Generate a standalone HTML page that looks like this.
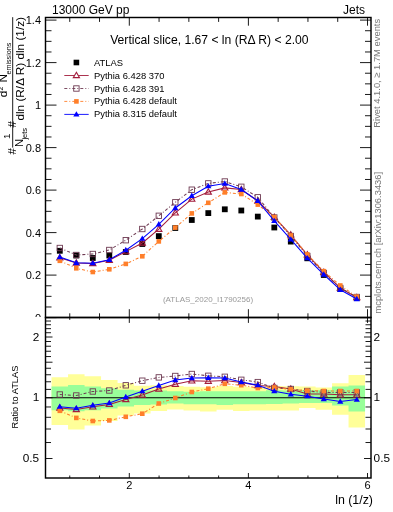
<!DOCTYPE html><html><head><meta charset="utf-8"><style>html,body{margin:0;padding:0;background:#fff;width:393px;height:512px;overflow:hidden}svg{display:block;will-change:transform}text{font-family:"Liberation Sans",sans-serif}</style></head><body>
<svg width="393" height="512" viewBox="0 0 393 512">
<rect x="0" y="0" width="393" height="512" fill="#fff"/>
<path d="M51.55 377.20H68.05V424.90H51.55Z M68.05 374.20H84.55V429.60H68.05Z M84.55 376.20H101.05V425.50H84.55Z M101.05 380.00H117.55V421.00H101.05Z M117.55 383.00H134.05V415.60H117.55Z M134.05 385.80H150.55V413.50H134.05Z M150.55 385.30H167.05V411.00H150.55Z M167.05 386.00H183.55V409.60H167.05Z M183.55 386.70H200.05V410.40H183.55Z M200.05 387.30H216.55V411.50H200.05Z M216.55 386.00H233.05V409.80H216.55Z M233.05 386.70H249.55V411.00H233.05Z M249.55 387.30H266.05V410.40H249.55Z M266.05 386.00H282.55V410.40H266.05Z M282.55 386.30H299.05V410.40H282.55Z M299.05 386.60H315.55V408.00H299.05Z M315.55 387.40H332.05V409.70H315.55Z M332.05 383.30H348.55V414.70H332.05Z M348.55 374.90H365.05V427.50H348.55Z" fill="#ffff99"/>
<path d="M51.55 386.40H68.05V410.30H51.55Z M68.05 385.00H84.55V411.30H68.05Z M84.55 386.40H101.05V410.30H84.55Z M101.05 388.30H117.55V408.40H101.05Z M117.55 389.80H134.05V406.40H117.55Z M134.05 390.60H150.55V405.00H134.05Z M150.55 390.60H167.05V404.40H150.55Z M167.05 391.30H183.55V403.60H167.05Z M183.55 391.80H200.05V404.30H183.55Z M200.05 391.30H216.55V404.30H200.05Z M216.55 391.30H233.05V405.00H216.55Z M233.05 391.30H249.55V404.30H233.05Z M249.55 391.30H266.05V404.30H249.55Z M266.05 390.20H282.55V404.00H266.05Z M282.55 390.50H299.05V403.50H282.55Z M299.05 390.00H315.55V403.10H299.05Z M315.55 390.00H332.05V403.10H315.55Z M332.05 386.60H348.55V405.60H332.05Z M348.55 385.50H365.05V411.40H348.55Z" fill="#99ff99"/>
<line x1="45.5" y1="397.75" x2="371.0" y2="397.75" stroke="#000" stroke-width="1.2"/>
<rect x="56.90" y="247.90" width="5.8" height="5.8" fill="#000"/>
<rect x="73.40" y="252.60" width="5.8" height="5.8" fill="#000"/>
<rect x="89.90" y="255.10" width="5.8" height="5.8" fill="#000"/>
<rect x="106.40" y="252.60" width="5.8" height="5.8" fill="#000"/>
<rect x="122.90" y="249.10" width="5.8" height="5.8" fill="#000"/>
<rect x="139.40" y="241.10" width="5.8" height="5.8" fill="#000"/>
<rect x="155.90" y="233.20" width="5.8" height="5.8" fill="#000"/>
<rect x="172.40" y="225.10" width="5.8" height="5.8" fill="#000"/>
<rect x="188.90" y="217.10" width="5.8" height="5.8" fill="#000"/>
<rect x="205.40" y="210.20" width="5.8" height="5.8" fill="#000"/>
<rect x="221.90" y="206.40" width="5.8" height="5.8" fill="#000"/>
<rect x="238.40" y="207.60" width="5.8" height="5.8" fill="#000"/>
<rect x="254.90" y="213.70" width="5.8" height="5.8" fill="#000"/>
<rect x="271.40" y="224.60" width="5.8" height="5.8" fill="#000"/>
<rect x="287.90" y="238.70" width="5.8" height="5.8" fill="#000"/>
<rect x="304.40" y="255.40" width="5.8" height="5.8" fill="#000"/>
<rect x="320.90" y="272.10" width="5.8" height="5.8" fill="#000"/>
<rect x="337.40" y="286.10" width="5.8" height="5.8" fill="#000"/>
<rect x="353.90" y="295.10" width="5.8" height="5.8" fill="#000"/>
<polyline points="59.80,257.80 76.30,263.00 92.80,263.50 109.30,260.30 125.80,251.60 142.30,243.00 158.80,229.20 175.30,212.90 191.80,199.10 208.30,192.00 224.80,187.90 241.30,189.50 257.80,201.00 274.30,217.20 290.80,234.90 307.30,254.80 323.80,272.20 340.30,288.00 356.80,297.50" fill="none" stroke="#a31d3c" stroke-width="1.05"/>
<polygon points="59.80,254.58 62.90,259.95 56.70,259.95" fill="none" stroke="#a31d3c" stroke-width="1.1"/>
<polygon points="76.30,259.78 79.40,265.15 73.20,265.15" fill="none" stroke="#a31d3c" stroke-width="1.1"/>
<polygon points="92.80,260.28 95.90,265.65 89.70,265.65" fill="none" stroke="#a31d3c" stroke-width="1.1"/>
<polygon points="109.30,257.08 112.40,262.45 106.20,262.45" fill="none" stroke="#a31d3c" stroke-width="1.1"/>
<polygon points="125.80,248.38 128.90,253.75 122.70,253.75" fill="none" stroke="#a31d3c" stroke-width="1.1"/>
<polygon points="142.30,239.78 145.40,245.15 139.20,245.15" fill="none" stroke="#a31d3c" stroke-width="1.1"/>
<polygon points="158.80,225.98 161.90,231.35 155.70,231.35" fill="none" stroke="#a31d3c" stroke-width="1.1"/>
<polygon points="175.30,209.68 178.40,215.05 172.20,215.05" fill="none" stroke="#a31d3c" stroke-width="1.1"/>
<polygon points="191.80,195.88 194.90,201.25 188.70,201.25" fill="none" stroke="#a31d3c" stroke-width="1.1"/>
<polygon points="208.30,188.78 211.40,194.15 205.20,194.15" fill="none" stroke="#a31d3c" stroke-width="1.1"/>
<polygon points="224.80,184.68 227.90,190.05 221.70,190.05" fill="none" stroke="#a31d3c" stroke-width="1.1"/>
<polygon points="241.30,186.28 244.40,191.65 238.20,191.65" fill="none" stroke="#a31d3c" stroke-width="1.1"/>
<polygon points="257.80,197.78 260.90,203.15 254.70,203.15" fill="none" stroke="#a31d3c" stroke-width="1.1"/>
<polygon points="274.30,213.98 277.40,219.35 271.20,219.35" fill="none" stroke="#a31d3c" stroke-width="1.1"/>
<polygon points="290.80,231.68 293.90,237.05 287.70,237.05" fill="none" stroke="#a31d3c" stroke-width="1.1"/>
<polygon points="307.30,251.58 310.40,256.95 304.20,256.95" fill="none" stroke="#a31d3c" stroke-width="1.1"/>
<polygon points="323.80,268.98 326.90,274.35 320.70,274.35" fill="none" stroke="#a31d3c" stroke-width="1.1"/>
<polygon points="340.30,284.78 343.40,290.15 337.20,290.15" fill="none" stroke="#a31d3c" stroke-width="1.1"/>
<polygon points="356.80,294.28 359.90,299.65 353.70,299.65" fill="none" stroke="#a31d3c" stroke-width="1.1"/>
<polyline points="59.80,248.00 76.30,255.00 92.80,254.00 109.30,250.00 125.80,240.20 142.30,229.00 158.80,215.80 175.30,202.30 191.80,189.70 208.30,183.40 224.80,181.50 241.30,186.80 257.80,197.30 274.30,217.50 290.80,236.00 307.30,256.00 323.80,273.00 340.30,288.00 356.80,297.00" fill="none" stroke="#6e3a52" stroke-width="1.05" stroke-dasharray="3,2,1,2"/>
<rect x="57.10" y="245.30" width="5.4" height="5.4" fill="none" stroke="#6e3a52" stroke-width="0.9"/>
<rect x="73.60" y="252.30" width="5.4" height="5.4" fill="none" stroke="#6e3a52" stroke-width="0.9"/>
<rect x="90.10" y="251.30" width="5.4" height="5.4" fill="none" stroke="#6e3a52" stroke-width="0.9"/>
<rect x="106.60" y="247.30" width="5.4" height="5.4" fill="none" stroke="#6e3a52" stroke-width="0.9"/>
<rect x="123.10" y="237.50" width="5.4" height="5.4" fill="none" stroke="#6e3a52" stroke-width="0.9"/>
<rect x="139.60" y="226.30" width="5.4" height="5.4" fill="none" stroke="#6e3a52" stroke-width="0.9"/>
<rect x="156.10" y="213.10" width="5.4" height="5.4" fill="none" stroke="#6e3a52" stroke-width="0.9"/>
<rect x="172.60" y="199.60" width="5.4" height="5.4" fill="none" stroke="#6e3a52" stroke-width="0.9"/>
<rect x="189.10" y="187.00" width="5.4" height="5.4" fill="none" stroke="#6e3a52" stroke-width="0.9"/>
<rect x="205.60" y="180.70" width="5.4" height="5.4" fill="none" stroke="#6e3a52" stroke-width="0.9"/>
<rect x="222.10" y="178.80" width="5.4" height="5.4" fill="none" stroke="#6e3a52" stroke-width="0.9"/>
<rect x="238.60" y="184.10" width="5.4" height="5.4" fill="none" stroke="#6e3a52" stroke-width="0.9"/>
<rect x="255.10" y="194.60" width="5.4" height="5.4" fill="none" stroke="#6e3a52" stroke-width="0.9"/>
<rect x="271.60" y="214.80" width="5.4" height="5.4" fill="none" stroke="#6e3a52" stroke-width="0.9"/>
<rect x="288.10" y="233.30" width="5.4" height="5.4" fill="none" stroke="#6e3a52" stroke-width="0.9"/>
<rect x="304.60" y="253.30" width="5.4" height="5.4" fill="none" stroke="#6e3a52" stroke-width="0.9"/>
<rect x="321.10" y="270.30" width="5.4" height="5.4" fill="none" stroke="#6e3a52" stroke-width="0.9"/>
<rect x="337.60" y="285.30" width="5.4" height="5.4" fill="none" stroke="#6e3a52" stroke-width="0.9"/>
<rect x="354.10" y="294.30" width="5.4" height="5.4" fill="none" stroke="#6e3a52" stroke-width="0.9"/>
<polyline points="59.80,260.80 76.30,268.30 92.80,272.00 109.30,269.30 125.80,263.90 142.30,256.30 158.80,241.40 175.30,227.60 191.80,213.40 208.30,202.80 224.80,192.40 241.30,194.00 257.80,204.60 274.30,217.10 290.80,235.50 307.30,254.40 323.80,271.20 340.30,285.50 356.80,296.70" fill="none" stroke="#ff7f2a" stroke-width="1.05" stroke-dasharray="3,2,1,2"/>
<rect x="57.50" y="258.50" width="4.6" height="4.6" fill="#ff7f2a"/>
<rect x="74.00" y="266.00" width="4.6" height="4.6" fill="#ff7f2a"/>
<rect x="90.50" y="269.70" width="4.6" height="4.6" fill="#ff7f2a"/>
<rect x="107.00" y="267.00" width="4.6" height="4.6" fill="#ff7f2a"/>
<rect x="123.50" y="261.60" width="4.6" height="4.6" fill="#ff7f2a"/>
<rect x="140.00" y="254.00" width="4.6" height="4.6" fill="#ff7f2a"/>
<rect x="156.50" y="239.10" width="4.6" height="4.6" fill="#ff7f2a"/>
<rect x="173.00" y="225.30" width="4.6" height="4.6" fill="#ff7f2a"/>
<rect x="189.50" y="211.10" width="4.6" height="4.6" fill="#ff7f2a"/>
<rect x="206.00" y="200.50" width="4.6" height="4.6" fill="#ff7f2a"/>
<rect x="222.50" y="190.10" width="4.6" height="4.6" fill="#ff7f2a"/>
<rect x="239.00" y="191.70" width="4.6" height="4.6" fill="#ff7f2a"/>
<rect x="255.50" y="202.30" width="4.6" height="4.6" fill="#ff7f2a"/>
<rect x="272.00" y="214.80" width="4.6" height="4.6" fill="#ff7f2a"/>
<rect x="288.50" y="233.20" width="4.6" height="4.6" fill="#ff7f2a"/>
<rect x="305.00" y="252.10" width="4.6" height="4.6" fill="#ff7f2a"/>
<rect x="321.50" y="268.90" width="4.6" height="4.6" fill="#ff7f2a"/>
<rect x="338.00" y="283.20" width="4.6" height="4.6" fill="#ff7f2a"/>
<rect x="354.50" y="294.40" width="4.6" height="4.6" fill="#ff7f2a"/>
<polyline points="59.80,257.00 76.30,262.80 92.80,263.20 109.30,259.80 125.80,250.20 142.30,238.70 158.80,224.30 175.30,208.00 191.80,195.80 208.30,186.20 224.80,183.50 241.30,189.50 257.80,200.80 274.30,220.90 290.80,239.40 307.30,258.20 323.80,274.50 340.30,289.80 356.80,299.00" fill="none" stroke="#0000ff" stroke-width="1.05"/>
<polygon points="59.80,253.78 62.90,259.15 56.70,259.15" fill="#0000ff"/>
<polygon points="76.30,259.58 79.40,264.95 73.20,264.95" fill="#0000ff"/>
<polygon points="92.80,259.98 95.90,265.35 89.70,265.35" fill="#0000ff"/>
<polygon points="109.30,256.58 112.40,261.95 106.20,261.95" fill="#0000ff"/>
<polygon points="125.80,246.98 128.90,252.35 122.70,252.35" fill="#0000ff"/>
<polygon points="142.30,235.48 145.40,240.85 139.20,240.85" fill="#0000ff"/>
<polygon points="158.80,221.08 161.90,226.45 155.70,226.45" fill="#0000ff"/>
<polygon points="175.30,204.78 178.40,210.15 172.20,210.15" fill="#0000ff"/>
<polygon points="191.80,192.58 194.90,197.95 188.70,197.95" fill="#0000ff"/>
<polygon points="208.30,182.98 211.40,188.35 205.20,188.35" fill="#0000ff"/>
<polygon points="224.80,180.28 227.90,185.65 221.70,185.65" fill="#0000ff"/>
<polygon points="241.30,186.28 244.40,191.65 238.20,191.65" fill="#0000ff"/>
<polygon points="257.80,197.58 260.90,202.95 254.70,202.95" fill="#0000ff"/>
<polygon points="274.30,217.68 277.40,223.05 271.20,223.05" fill="#0000ff"/>
<polygon points="290.80,236.18 293.90,241.55 287.70,241.55" fill="#0000ff"/>
<polygon points="307.30,254.98 310.40,260.35 304.20,260.35" fill="#0000ff"/>
<polygon points="323.80,271.28 326.90,276.65 320.70,276.65" fill="#0000ff"/>
<polygon points="340.30,286.58 343.40,291.95 337.20,291.95" fill="#0000ff"/>
<polygon points="356.80,295.78 359.90,301.15 353.70,301.15" fill="#0000ff"/>
<polyline points="59.80,408.00 76.30,409.50 92.80,406.80 109.30,404.40 125.80,399.50 142.30,395.00 158.80,389.00 175.30,384.20 191.80,380.80 208.30,381.20 224.80,380.60 241.30,382.50 257.80,385.50 274.30,386.50 290.80,389.00 307.30,394.00 323.80,394.00 340.30,394.80 356.80,394.80" fill="none" stroke="#a31d3c" stroke-width="1.05"/>
<polygon points="59.80,404.78 62.90,410.15 56.70,410.15" fill="none" stroke="#a31d3c" stroke-width="1.1"/>
<polygon points="76.30,406.28 79.40,411.65 73.20,411.65" fill="none" stroke="#a31d3c" stroke-width="1.1"/>
<polygon points="92.80,403.58 95.90,408.95 89.70,408.95" fill="none" stroke="#a31d3c" stroke-width="1.1"/>
<polygon points="109.30,401.18 112.40,406.55 106.20,406.55" fill="none" stroke="#a31d3c" stroke-width="1.1"/>
<polygon points="125.80,396.28 128.90,401.65 122.70,401.65" fill="none" stroke="#a31d3c" stroke-width="1.1"/>
<polygon points="142.30,391.78 145.40,397.15 139.20,397.15" fill="none" stroke="#a31d3c" stroke-width="1.1"/>
<polygon points="158.80,385.78 161.90,391.15 155.70,391.15" fill="none" stroke="#a31d3c" stroke-width="1.1"/>
<polygon points="175.30,380.98 178.40,386.35 172.20,386.35" fill="none" stroke="#a31d3c" stroke-width="1.1"/>
<polygon points="191.80,377.58 194.90,382.95 188.70,382.95" fill="none" stroke="#a31d3c" stroke-width="1.1"/>
<polygon points="208.30,377.98 211.40,383.35 205.20,383.35" fill="none" stroke="#a31d3c" stroke-width="1.1"/>
<polygon points="224.80,377.38 227.90,382.75 221.70,382.75" fill="none" stroke="#a31d3c" stroke-width="1.1"/>
<polygon points="241.30,379.28 244.40,384.65 238.20,384.65" fill="none" stroke="#a31d3c" stroke-width="1.1"/>
<polygon points="257.80,382.28 260.90,387.65 254.70,387.65" fill="none" stroke="#a31d3c" stroke-width="1.1"/>
<polygon points="274.30,383.28 277.40,388.65 271.20,388.65" fill="none" stroke="#a31d3c" stroke-width="1.1"/>
<polygon points="290.80,385.78 293.90,391.15 287.70,391.15" fill="none" stroke="#a31d3c" stroke-width="1.1"/>
<polygon points="307.30,390.78 310.40,396.15 304.20,396.15" fill="none" stroke="#a31d3c" stroke-width="1.1"/>
<polygon points="323.80,390.78 326.90,396.15 320.70,396.15" fill="none" stroke="#a31d3c" stroke-width="1.1"/>
<polygon points="340.30,391.58 343.40,396.95 337.20,396.95" fill="none" stroke="#a31d3c" stroke-width="1.1"/>
<polygon points="356.80,391.58 359.90,396.95 353.70,396.95" fill="none" stroke="#a31d3c" stroke-width="1.1"/>
<polyline points="59.80,394.50 76.30,395.50 92.80,391.50 109.30,390.50 125.80,385.30 142.30,380.70 158.80,377.40 175.30,376.00 191.80,374.00 208.30,375.80 224.80,376.80 241.30,379.80 257.80,382.10 274.30,388.00 290.80,389.00 307.30,391.00 323.80,392.40 340.30,392.40 356.80,392.40" fill="none" stroke="#6e3a52" stroke-width="1.05" stroke-dasharray="3,2,1,2"/>
<rect x="57.10" y="391.80" width="5.4" height="5.4" fill="none" stroke="#6e3a52" stroke-width="0.9"/>
<rect x="73.60" y="392.80" width="5.4" height="5.4" fill="none" stroke="#6e3a52" stroke-width="0.9"/>
<rect x="90.10" y="388.80" width="5.4" height="5.4" fill="none" stroke="#6e3a52" stroke-width="0.9"/>
<rect x="106.60" y="387.80" width="5.4" height="5.4" fill="none" stroke="#6e3a52" stroke-width="0.9"/>
<rect x="123.10" y="382.60" width="5.4" height="5.4" fill="none" stroke="#6e3a52" stroke-width="0.9"/>
<rect x="139.60" y="378.00" width="5.4" height="5.4" fill="none" stroke="#6e3a52" stroke-width="0.9"/>
<rect x="156.10" y="374.70" width="5.4" height="5.4" fill="none" stroke="#6e3a52" stroke-width="0.9"/>
<rect x="172.60" y="373.30" width="5.4" height="5.4" fill="none" stroke="#6e3a52" stroke-width="0.9"/>
<rect x="189.10" y="371.30" width="5.4" height="5.4" fill="none" stroke="#6e3a52" stroke-width="0.9"/>
<rect x="205.60" y="373.10" width="5.4" height="5.4" fill="none" stroke="#6e3a52" stroke-width="0.9"/>
<rect x="222.10" y="374.10" width="5.4" height="5.4" fill="none" stroke="#6e3a52" stroke-width="0.9"/>
<rect x="238.60" y="377.10" width="5.4" height="5.4" fill="none" stroke="#6e3a52" stroke-width="0.9"/>
<rect x="255.10" y="379.40" width="5.4" height="5.4" fill="none" stroke="#6e3a52" stroke-width="0.9"/>
<rect x="271.60" y="385.30" width="5.4" height="5.4" fill="none" stroke="#6e3a52" stroke-width="0.9"/>
<rect x="288.10" y="386.30" width="5.4" height="5.4" fill="none" stroke="#6e3a52" stroke-width="0.9"/>
<rect x="304.60" y="388.30" width="5.4" height="5.4" fill="none" stroke="#6e3a52" stroke-width="0.9"/>
<rect x="321.10" y="389.70" width="5.4" height="5.4" fill="none" stroke="#6e3a52" stroke-width="0.9"/>
<rect x="337.60" y="389.70" width="5.4" height="5.4" fill="none" stroke="#6e3a52" stroke-width="0.9"/>
<rect x="354.10" y="389.70" width="5.4" height="5.4" fill="none" stroke="#6e3a52" stroke-width="0.9"/>
<polyline points="59.80,410.80 76.30,417.90 92.80,421.00 109.30,420.40 125.80,416.80 142.30,413.70 158.80,403.50 175.30,398.00 191.80,392.00 208.30,388.70 224.80,383.80 241.30,385.20 257.80,388.00 274.30,387.50 290.80,389.30 307.30,390.70 323.80,391.00 340.30,391.00 356.80,391.00" fill="none" stroke="#ff7f2a" stroke-width="1.05" stroke-dasharray="3,2,1,2"/>
<rect x="57.50" y="408.50" width="4.6" height="4.6" fill="#ff7f2a"/>
<rect x="74.00" y="415.60" width="4.6" height="4.6" fill="#ff7f2a"/>
<rect x="90.50" y="418.70" width="4.6" height="4.6" fill="#ff7f2a"/>
<rect x="107.00" y="418.10" width="4.6" height="4.6" fill="#ff7f2a"/>
<rect x="123.50" y="414.50" width="4.6" height="4.6" fill="#ff7f2a"/>
<rect x="140.00" y="411.40" width="4.6" height="4.6" fill="#ff7f2a"/>
<rect x="156.50" y="401.20" width="4.6" height="4.6" fill="#ff7f2a"/>
<rect x="173.00" y="395.70" width="4.6" height="4.6" fill="#ff7f2a"/>
<rect x="189.50" y="389.70" width="4.6" height="4.6" fill="#ff7f2a"/>
<rect x="206.00" y="386.40" width="4.6" height="4.6" fill="#ff7f2a"/>
<rect x="222.50" y="381.50" width="4.6" height="4.6" fill="#ff7f2a"/>
<rect x="239.00" y="382.90" width="4.6" height="4.6" fill="#ff7f2a"/>
<rect x="255.50" y="385.70" width="4.6" height="4.6" fill="#ff7f2a"/>
<rect x="272.00" y="385.20" width="4.6" height="4.6" fill="#ff7f2a"/>
<rect x="288.50" y="387.00" width="4.6" height="4.6" fill="#ff7f2a"/>
<rect x="305.00" y="388.40" width="4.6" height="4.6" fill="#ff7f2a"/>
<rect x="321.50" y="388.70" width="4.6" height="4.6" fill="#ff7f2a"/>
<rect x="338.00" y="388.70" width="4.6" height="4.6" fill="#ff7f2a"/>
<rect x="354.50" y="388.70" width="4.6" height="4.6" fill="#ff7f2a"/>
<polyline points="59.80,406.70 76.30,408.20 92.80,405.30 109.30,403.00 125.80,397.00 142.30,391.20 158.80,385.50 175.30,380.00 191.80,378.10 208.30,377.80 224.80,378.10 241.30,382.00 257.80,385.20 274.30,391.20 290.80,394.30 307.30,396.20 323.80,399.00 340.30,401.50 356.80,399.60" fill="none" stroke="#0000ff" stroke-width="1.05"/>
<polygon points="59.80,403.48 62.90,408.85 56.70,408.85" fill="#0000ff"/>
<polygon points="76.30,404.98 79.40,410.35 73.20,410.35" fill="#0000ff"/>
<polygon points="92.80,402.08 95.90,407.45 89.70,407.45" fill="#0000ff"/>
<polygon points="109.30,399.78 112.40,405.15 106.20,405.15" fill="#0000ff"/>
<polygon points="125.80,393.78 128.90,399.15 122.70,399.15" fill="#0000ff"/>
<polygon points="142.30,387.98 145.40,393.35 139.20,393.35" fill="#0000ff"/>
<polygon points="158.80,382.28 161.90,387.65 155.70,387.65" fill="#0000ff"/>
<polygon points="175.30,376.78 178.40,382.15 172.20,382.15" fill="#0000ff"/>
<polygon points="191.80,374.88 194.90,380.25 188.70,380.25" fill="#0000ff"/>
<polygon points="208.30,374.58 211.40,379.95 205.20,379.95" fill="#0000ff"/>
<polygon points="224.80,374.88 227.90,380.25 221.70,380.25" fill="#0000ff"/>
<polygon points="241.30,378.78 244.40,384.15 238.20,384.15" fill="#0000ff"/>
<polygon points="257.80,381.98 260.90,387.35 254.70,387.35" fill="#0000ff"/>
<polygon points="274.30,387.98 277.40,393.35 271.20,393.35" fill="#0000ff"/>
<polygon points="290.80,391.08 293.90,396.45 287.70,396.45" fill="#0000ff"/>
<polygon points="307.30,392.98 310.40,398.35 304.20,398.35" fill="#0000ff"/>
<polygon points="323.80,395.78 326.90,401.15 320.70,401.15" fill="#0000ff"/>
<polygon points="340.30,398.28 343.40,403.65 337.20,403.65" fill="#0000ff"/>
<polygon points="356.80,396.38 359.90,401.75 353.70,401.75" fill="#0000ff"/>
<rect x="45.5" y="17.5" width="325.5" height="300.0" fill="none" stroke="#000" stroke-width="1.45"/>
<rect x="45.5" y="317.5" width="325.5" height="160.5" fill="none" stroke="#000" stroke-width="1.45"/>
<path d="M69.75 17.5v4.4 M69.75 317.5v-4.2 M69.75 317.5v2.4 M69.75 478.0v-2.5 M99.52 17.5v4.4 M99.52 317.5v-4.2 M99.52 317.5v2.4 M99.52 478.0v-2.5 M129.30 17.5v8.2 M129.30 317.5v-8.3 M129.30 317.5v5.4 M129.30 478.0v-5 M159.07 17.5v4.4 M159.07 317.5v-4.2 M159.07 317.5v2.4 M159.07 478.0v-2.5 M188.85 17.5v4.4 M188.85 317.5v-4.2 M188.85 317.5v2.4 M188.85 478.0v-2.5 M218.62 17.5v4.4 M218.62 317.5v-4.2 M218.62 317.5v2.4 M218.62 478.0v-2.5 M248.40 17.5v8.2 M248.40 317.5v-8.3 M248.40 317.5v5.4 M248.40 478.0v-5 M278.17 17.5v4.4 M278.17 317.5v-4.2 M278.17 317.5v2.4 M278.17 478.0v-2.5 M307.95 17.5v4.4 M307.95 317.5v-4.2 M307.95 317.5v2.4 M307.95 478.0v-2.5 M337.72 17.5v4.4 M337.72 317.5v-4.2 M337.72 317.5v2.4 M337.72 478.0v-2.5 M367.50 17.5v8.2 M367.50 317.5v-8.3 M367.50 317.5v5.4 M367.50 478.0v-5 M45.5 317.60h11 M371.0 317.60h-11 M45.5 306.98h6 M371.0 306.98h-6 M45.5 296.35h6 M371.0 296.35h-6 M45.5 285.73h6 M371.0 285.73h-6 M45.5 275.10h11 M371.0 275.10h-11 M45.5 264.48h6 M371.0 264.48h-6 M45.5 253.85h6 M371.0 253.85h-6 M45.5 243.23h6 M371.0 243.23h-6 M45.5 232.60h11 M371.0 232.60h-11 M45.5 221.98h6 M371.0 221.98h-6 M45.5 211.35h6 M371.0 211.35h-6 M45.5 200.73h6 M371.0 200.73h-6 M45.5 190.10h11 M371.0 190.10h-11 M45.5 179.48h6 M371.0 179.48h-6 M45.5 168.85h6 M371.0 168.85h-6 M45.5 158.23h6 M371.0 158.23h-6 M45.5 147.60h11 M371.0 147.60h-11 M45.5 136.97h6 M371.0 136.97h-6 M45.5 126.35h6 M371.0 126.35h-6 M45.5 115.73h6 M371.0 115.73h-6 M45.5 105.10h11 M371.0 105.10h-11 M45.5 94.48h6 M371.0 94.48h-6 M45.5 83.85h6 M371.0 83.85h-6 M45.5 73.22h6 M371.0 73.22h-6 M45.5 62.60h11 M371.0 62.60h-11 M45.5 51.98h6 M371.0 51.98h-6 M45.5 41.35h6 M371.0 41.35h-6 M45.5 30.73h6 M371.0 30.73h-6 M45.5 20.10h11 M371.0 20.10h-11 M45.5 458.50h7 M371.0 458.50h-7 M45.5 442.52h5.5 M371.0 442.52h-5.5 M45.5 429.01h5.5 M371.0 429.01h-5.5 M45.5 417.31h5.5 M371.0 417.31h-5.5 M45.5 406.98h5.5 M371.0 406.98h-5.5 M45.5 397.75h7 M371.0 397.75h-7 M45.5 389.40h5.5 M371.0 389.40h-5.5 M45.5 381.77h5.5 M371.0 381.77h-5.5 M45.5 374.76h5.5 M371.0 374.76h-5.5 M45.5 368.26h5.5 M371.0 368.26h-5.5 M45.5 362.21h7 M371.0 362.21h-7 M45.5 356.56h5.5 M371.0 356.56h-5.5 M45.5 351.25h5.5 M371.0 351.25h-5.5 M45.5 346.24h5.5 M371.0 346.24h-5.5 M45.5 341.50h5.5 M371.0 341.50h-5.5 M45.5 337.00h7 M371.0 337.00h-7 M45.5 332.73h5.5 M371.0 332.73h-5.5 M45.5 328.65h5.5 M371.0 328.65h-5.5 M45.5 324.75h5.5 M371.0 324.75h-5.5 M45.5 321.02h5.5 M371.0 321.02h-5.5" fill="none" stroke="#000" stroke-width="0.9"/>
<text x="52" y="14" font-size="12" fill="#000">13000 GeV pp</text>
<text x="365" y="13.8" font-size="12" text-anchor="end" fill="#000">Jets</text>
<text x="209.4" y="43.7" font-size="12.15" text-anchor="middle" fill="#000">Vertical slice, 1.67 &lt; ln (RΔ R) &lt; 2.00</text>
<defs><clipPath id="c0"><rect x="0" y="0" width="393" height="317"/></clipPath></defs>
<text x="41" y="321.60" font-size="11" text-anchor="end" fill="#000" clip-path="url(#c0)">0</text>
<text x="41" y="279.10" font-size="11" text-anchor="end" fill="#000">0.2</text>
<text x="41" y="236.60" font-size="11" text-anchor="end" fill="#000">0.4</text>
<text x="41" y="194.10" font-size="11" text-anchor="end" fill="#000">0.6</text>
<text x="41" y="151.60" font-size="11" text-anchor="end" fill="#000">0.8</text>
<text x="41" y="109.10" font-size="11" text-anchor="end" fill="#000">1</text>
<text x="41" y="66.60" font-size="11" text-anchor="end" fill="#000">1.2</text>
<text x="41" y="24.10" font-size="11" text-anchor="end" fill="#000">1.4</text>
<text x="129.30" y="489" font-size="11" text-anchor="middle" fill="#000">2</text>
<text x="248.40" y="489" font-size="11" text-anchor="middle" fill="#000">4</text>
<text x="367.50" y="489" font-size="11" text-anchor="middle" fill="#000">6</text>
<text x="373" y="504.2" font-size="12.4" text-anchor="end" fill="#000">ln (1/z)</text>
<text x="39.2" y="340.70" font-size="11.8" text-anchor="end" fill="#000">2</text>
<text x="373.6" y="340.70" font-size="11.8" fill="#000">2</text>
<text x="39.2" y="401.45" font-size="11.8" text-anchor="end" fill="#000">1</text>
<text x="373.6" y="401.45" font-size="11.8" fill="#000">1</text>
<text x="39.2" y="462.20" font-size="11.8" text-anchor="end" fill="#000">0.5</text>
<text x="373.6" y="462.20" font-size="11.8" fill="#000">0.5</text>
<text transform="translate(17.8,397) rotate(-90)" font-size="9.3" text-anchor="middle" fill="#000">Ratio to ATLAS</text>
<text transform="translate(380,127.7) rotate(-90)" font-size="9.4" fill="#777">Rivet 4.1.0, ≥ 1.7M events</text>
<text transform="translate(381,313.6) rotate(-90)" font-size="9.4" fill="#777">mcplots.cern.ch [arXiv:1306.3436]</text>
<text x="208" y="302" font-size="8" text-anchor="middle" fill="#999">(ATLAS_2020_I1790256)</text>
<text x="94" y="65.50" font-size="9.4" fill="#000">ATLAS</text>
<text x="94" y="78.50" font-size="9.4" fill="#000">Pythia 6.428 370</text>
<text x="94" y="91.50" font-size="9.4" fill="#000">Pythia 6.428 391</text>
<text x="94" y="104.40" font-size="9.4" fill="#000">Pythia 6.428 default</text>
<text x="94" y="117.40" font-size="9.4" fill="#000">Pythia 8.315 default</text>
<rect x="73.60" y="59.70" width="5.6" height="5.6" fill="#000"/>
<line x1="64.3" y1="75.50" x2="88.7" y2="75.50" stroke="#a31d3c" stroke-width="0.9"/>
<polygon points="76.40,72.28 79.50,77.65 73.30,77.65" fill="#fff" stroke="#a31d3c" stroke-width="1.1"/>
<line x1="64.3" y1="88.50" x2="88.7" y2="88.50" stroke="#6e3a52" stroke-width="0.9" stroke-dasharray="3,2,1,2"/>
<rect x="73.70" y="85.80" width="5.4" height="5.4" fill="none" stroke="#6e3a52" stroke-width="0.9"/>
<line x1="64.3" y1="101.40" x2="88.7" y2="101.40" stroke="#ff7f2a" stroke-width="0.9" stroke-dasharray="3,2,1,2"/>
<rect x="74.10" y="99.10" width="4.6" height="4.6" fill="#ff7f2a"/>
<line x1="64.3" y1="114.40" x2="88.7" y2="114.40" stroke="#0000ff" stroke-width="0.9"/>
<polygon points="76.40,111.18 79.50,116.55 73.30,116.55" fill="#0000ff"/>
<line x1="12.7" y1="17.2" x2="12.7" y2="147.6" stroke="#000" stroke-width="0.9"/>
<text transform="translate(16.1,154.5) rotate(-90)" font-size="11.5" fill="#000">#</text>
<text transform="translate(10.0,139.0) rotate(-90)" font-size="9.8" fill="#000">1</text>
<text transform="translate(23.4,146.9) rotate(-90)" font-size="11.2" fill="#000">N</text>
<text transform="translate(27.3,139.6) rotate(-90)" font-size="7.5" fill="#000">jets</text>
<text transform="translate(16.1,127.6) rotate(-90)" font-size="11.5" fill="#000">#</text>
<text transform="translate(24.1,120.6) rotate(-90)" font-size="11.8" fill="#000">dln (R/Δ R) dln (1/z)</text>
<text transform="translate(7.3,97.2) rotate(-90)" font-size="11.8" fill="#000">d</text>
<text transform="translate(2.6,90.6) rotate(-90)" font-size="7" fill="#000">2</text>
<text transform="translate(7.2,82.6) rotate(-90)" font-size="11.8" fill="#000">N</text>
<text transform="translate(11.2,74.6) rotate(-90)" font-size="7.2" fill="#000">emissions</text>
</svg></body></html>
